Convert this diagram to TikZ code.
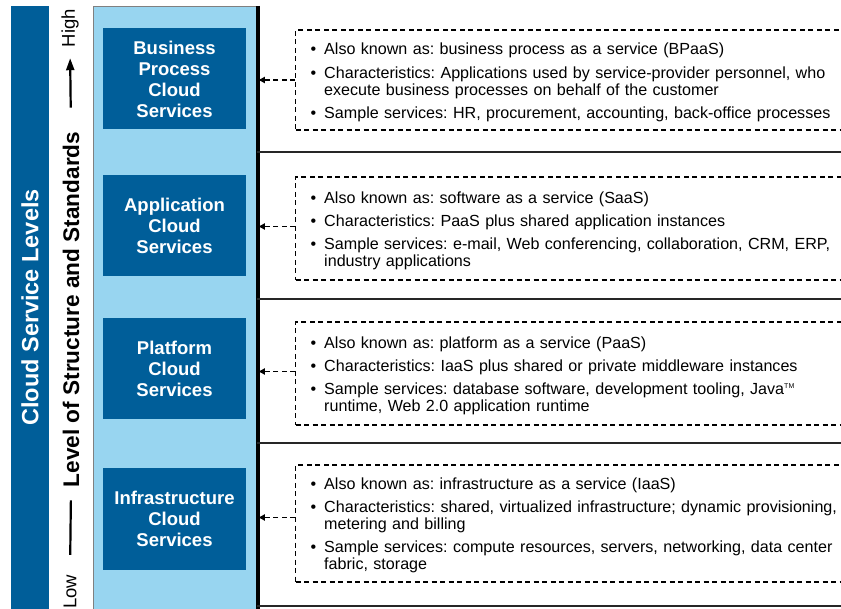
\documentclass[tikz,border=0pt]{standalone}
\usepackage{fontspec}
\setmainfont{Liberation Sans}
\frenchspacing
\usetikzlibrary{calc, positioning, arrows.meta}
\definecolor{cloudblue}{RGB}{0,94,153}
\definecolor{paleblue}{RGB}{152,213,240}

\newcommand{\infolist}[1]{\raisebox{-3pt}[\height][\depth]{\begin{tabular}{@{}l@{\hspace{8pt}}l@{}}#1\end{tabular}}}
\newcommand{\bul}{\textbullet &}

\begin{document}
\begin{tikzpicture}[x=1pt, y=-1pt,
	level/.style={fill=cloudblue, text=white, minimum width=143, minimum height=101, inner sep=0, align=center, font=\fontsize{18.5}{21}\selectfont\bfseries},
	info/.style={draw, dash pattern=on 5pt off 3.5pt, line width=1.2pt, anchor=west, text width=540pt, inner xsep=15pt, inner ysep=0pt, minimum height=#1, align=left, font=\fontsize{16.1}{17}\selectfont},
	link/.style={dash pattern=on 5pt off 3.5pt, line width=1.3pt, -{Latex[length=7pt,width=7pt]}},
	sep/.style={line width=1.5pt, draw=black!85}]

		\useasboundingbox (0,0) rectangle (841,609);

		% nodes - stack of service levels %
		\node[draw=gray, fill=paleblue, line width=0.8pt, anchor=north west, minimum width=164, minimum height=610, inner sep=0] (stack) at (93,6) {};
		\node[level] (bpcs) at (174.5,79) {Business\\Process\\Cloud\\Services};
		\node[level] (acs) at (174.5,225.5) {Application\\Cloud\\Services};
		\node[level] (pcs) at (174.5,368.5) {Platform\\Cloud\\Services};
		\node[level] (ics) at (174.5,519) {Infrastructure\\Cloud\\Services};
		\draw[line width=4pt] (stack.north east) -- (stack.south east);
		\foreach \y in {152,299,443,606}
			\draw[sep] (257,\y) -- (845,\y);

		% nodes - left-hand axis %
		\node[fill=cloudblue, rotate=90, minimum width=603, minimum height=38, inner sep=0, text=white, font=\fontsize{23.5}{28}\selectfont\bfseries] (levels) at (30,307.5) {Cloud Service Levels};
		\node[rotate=90, inner sep=2pt, font=\fontsize{22.6}{27}\selectfont\bfseries] (axis) at (71,309.5) {Level of Structure and Standards};
		\node[rotate=90, inner sep=0pt, font=\fontsize{18.5}{22}\selectfont] (high) at (70,28) {High};
		\node[rotate=90, inner sep=0pt, font=\fontsize{18.5}{22}\selectfont] (low) at (70,592) {Low};

		% nodes - descriptions %
		\node[info=100] (bpinfo) at (295,80) {\infolist{
			\bul Also known as: business process as a service (BPaaS)\\[7pt]
			\bul Characteristics: Applications used by service-provider personnel, who\\
			& execute business processes on behalf of the customer\\[6pt]
			\bul Sample services: HR, procurement, accounting, back-office processes}};
		\node[info=103] (ainfo) at (295,228.5) {\infolist{
			\bul Also known as: software as a service (SaaS)\\[6pt]
			\bul Characteristics: PaaS plus shared application instances\\[6pt]
			\bul Sample services: e-mail, Web conferencing, collaboration, CRM, ERP,\\
			& industry applications}};
		\node[info=103] (pinfo) at (295,373.5) {\infolist{
			\bul Also known as: platform as a service (PaaS)\\[6pt]
			\bul Characteristics: IaaS plus shared or private middleware instances\\[6pt]
			\bul Sample services: database software, development tooling, Java\textsuperscript{\fontsize{7}{7}\selectfont TM}\\
			& runtime, Web 2.0 application runtime}};
		\node[info=117] (iinfo) at (295,523.5) {\infolist{
			\bul Also known as: infrastructure as a service (IaaS)\\[6pt]
			\bul Characteristics: shared, virtualized infrastructure; dynamic provisioning,\\
			& metering and billing\\[6pt]
			\bul Sample services: compute resources, servers, networking, data center\\
			& fabric, storage}};

		% edges %
		\draw[line width=2.2pt, -{Triangle[length=12pt,width=8pt]}, shorten <=22pt, shorten >=11pt] (axis.east) -- (high.west);
		\draw[line width=2.2pt, shorten <=11pt, shorten >=20pt] (axis.west) -- (low.east);
		\draw[link] (bpinfo.west) -- (bpinfo.west -| stack.east);
		\draw[link] ([yshift=2pt]ainfo.west) -- ([yshift=2pt]ainfo.west -| stack.east);
		\draw[link] ([yshift=2pt]pinfo.west) -- ([yshift=2pt]pinfo.west -| stack.east);
		\draw[link] ([yshift=6pt]iinfo.west) -- ([yshift=6pt]iinfo.west -| stack.east);
		\end{tikzpicture}
\end{document}
